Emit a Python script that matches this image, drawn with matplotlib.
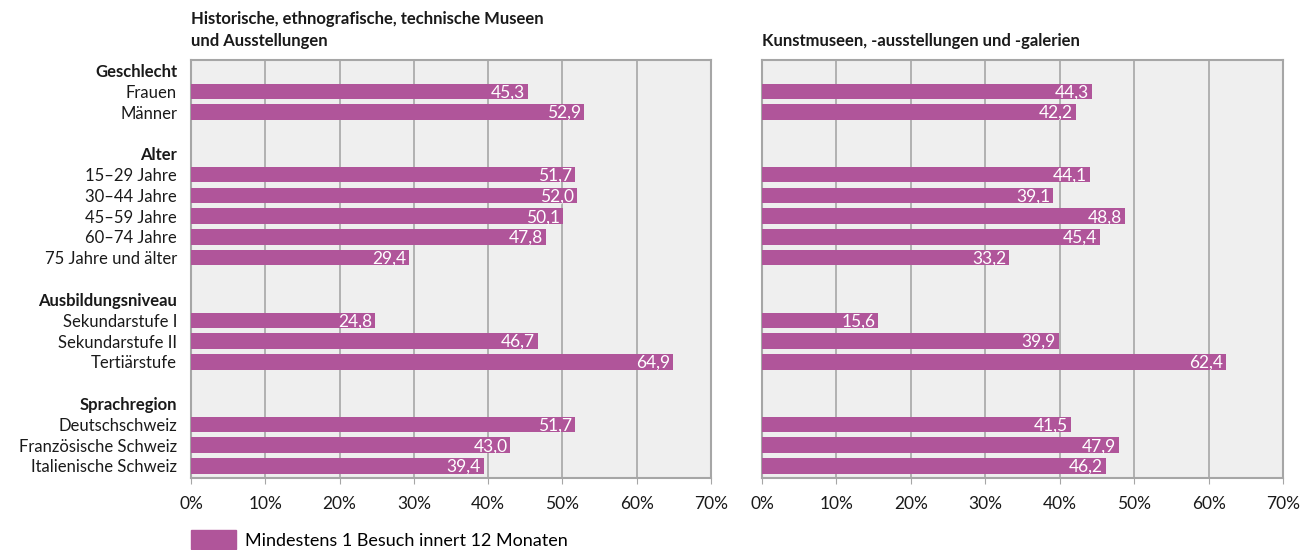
import numpy as np
import matplotlib.pyplot as plt
from matplotlib.patches import Patch

plt.rcParams['font.family'] = ['Lato', 'DejaVu Sans']

# rows from top to bottom; None = blank spacer row
headers = ['Geschlecht', 'Alter', 'Ausbildungsniveau', 'Sprachregion']
groups = [
    ['Frauen', 'Männer'],
    ['15–29 Jahre', '30–44 Jahre', '45–59 Jahre', '60–74 Jahre', '75 Jahre und älter'],
    ['Sekundarstufe I', 'Sekundarstufe II', 'Tertiärstufe'],
    ['Deutschschweiz', 'Französische Schweiz', 'Italienische Schweiz'],
]
hist_values = [45.3, 52.9, 51.7, 52.0, 50.1, 47.8, 29.4, 24.8, 46.7, 64.9, 51.7, 43.0, 39.4]
kunst_values = [44.3, 42.2, 44.1, 39.1, 48.8, 45.4, 33.2, 15.6, 39.9, 62.4, 41.5, 47.9, 46.2]
titles = ['Historische, ethnografische, technische Museen\nund Ausstellungen',
          'Kunstmuseen, -ausstellungen und -galerien']
legend_label = 'Mindestens 1 Besuch innert 12 Monaten'

bar_color = '#B0559A'
grid_color = '#A6A6A6'

# build row layout
row_labels, row_bold, bar_rows = [], [], []
for gi, (h, items) in enumerate(zip(headers, groups)):
    if gi > 0:
        row_labels.append('')
        row_bold.append(False)
    row_labels.append(h)
    row_bold.append(True)
    for it in items:
        bar_rows.append(len(row_labels))
        row_labels.append(it)
        row_bold.append(False)
n_rows = len(row_labels)
bar_rows = np.array(bar_rows)

fig = plt.figure(figsize=(13.16, 5.5), dpi=100)
ax1 = fig.add_axes([191 / 1316, 1 - 478 / 550, 520 / 1316, 418 / 550])
ax2 = fig.add_axes([762 / 1316, 1 - 478 / 550, 521 / 1316, 418 / 550])

for ax, vals, title in [(ax1, hist_values, titles[0]), (ax2, kunst_values, titles[1])]:
    ax.set_facecolor('#EFEFEF')
    ax.barh(bar_rows, vals, height=0.74, color=bar_color, zorder=3)
    for y, v in zip(bar_rows, vals):
        ax.text(v - 0.4, y + 0.05, f'{v:.1f}'.replace('.', ','), ha='right', va='center',
                color='white', fontsize=12.5, zorder=4)
    ax.set_xlim(0, 70)
    ax.set_ylim(n_rows - 0.42, -0.5)
    ax.set_xticks(np.arange(0, 71, 10))
    ax.set_xticklabels([f'{t}%' for t in range(0, 71, 10)], fontsize=12.5, color='#1a1a1a')
    ax.xaxis.grid(True, color=grid_color, linewidth=1.2, zorder=1)
    ax.tick_params(axis='x', length=4, color=grid_color, pad=9)
    for s in ax.spines.values():
        s.set_color(grid_color)
        s.set_linewidth(1.5)
    ax.set_title(title, loc='left', fontsize=12, fontweight='bold', pad=10,
                 linespacing=1.45, color='#1a1a1a')

ax1.set_yticks(np.arange(n_rows))
ax1.set_yticklabels(row_labels, fontsize=12, color='#1a1a1a')
for lab, b in zip(ax1.get_yticklabels(), row_bold):
    if b:
        lab.set_fontweight('bold')
ax1.tick_params(axis='y', length=0, pad=10)
ax2.set_yticks([])

fig.legend(handles=[Patch(color=bar_color, label=legend_label)],
           loc='lower left', bbox_to_anchor=(191 / 1316, 1 / 550), frameon=False,
           borderpad=0, borderaxespad=0,
           fontsize=13, handlelength=2.5, handleheight=1.2, handletextpad=0.5)

fig.savefig('out.png', dpi=100)
